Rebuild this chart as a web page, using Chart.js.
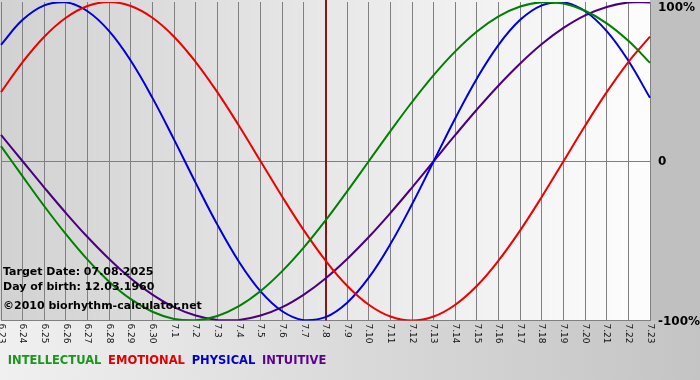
<!DOCTYPE html>
<html>
<head>
<meta charset="utf-8">
<script src="https://cdn.jsdelivr.net/npm/chart.js@4/dist/chart.umd.min.js"></script>
<style>
html,body{margin:0;padding:0;background:#fff;}
#wrap{width:700px;height:380px;position:relative;}
</style>
</head>
<body>
<div id="wrap"><canvas id="c" width="700" height="380"></canvas></div>
<script>
const dates = ['6.23','6.24','6.25','6.26','6.27','6.28','6.29','6.30','7.1','7.2','7.3','7.4','7.5','7.6','7.7','7.8','7.9','7.10','7.11','7.12','7.13','7.14','7.15','7.16','7.17','7.18','7.19','7.20','7.21','7.22','7.23'];
const intellectual = [9.5,-9.5,-28.2,-45.8,-61.8,-75.6,-86.6,-94.5,-99.0,-99.9,-97.2,-91.0,-81.5,-69.0,-54.1,-37.2,-18.9,0,18.9,37.2,54.1,69.0,81.5,91.0,97.2,99.9,99.0,94.5,86.6,75.6,61.8];
const emotional = [43.4,62.3,78.2,90.1,97.5,100,97.5,90.1,78.2,62.3,43.4,22.3,0,-22.3,-43.4,-62.3,-78.2,-90.1,-97.5,-100,-97.5,-90.1,-78.2,-62.3,-43.4,-22.3,0,22.3,43.4,62.3,78.2];
const physical = [73.1,88.8,97.9,99.8,94.2,81.7,63.1,39.8,13.6,-13.6,-39.8,-63.1,-81.7,-94.2,-99.8,-97.9,-88.8,-73.1,-52.0,-27.0,0,27.0,52.0,73.1,88.8,97.9,99.8,94.2,81.7,63.1,39.8];
const intuitive = [16.5,0,-16.5,-32.5,-47.6,-61.4,-73.6,-83.7,-91.6,-96.9,-99.7,-99.7,-96.9,-91.6,-83.7,-73.6,-61.4,-47.6,-32.5,-16.5,0,16.5,32.5,47.6,61.4,73.6,83.7,91.6,96.9,99.7,99.7];
const seriesNames = ['INTELLECTUAL','EMOTIONAL','PHYSICAL','INTUITIVE'];
const yTickValues = [100, 0, -100];
const yTickLabels = ['100%', '0', '-100%'];
const targetDate = '7.8';
const infoLines = ['Target Date: 07.08.2025', 'Day of birth: 12.03.1960', '\u00a92010 biorhythm-calculator.net'];

const lineColors = ['#008000', '#ee0000', '#0000dd', '#4b0082'];
const legendColors = ['#1a961a', '#e00000', '#0000cc', '#5c0090'];

const bgPlugin = {
  id: 'bg',
  beforeDraw(chart) {
    const {ctx, chartArea: a, width, height} = chart;
    ctx.save();
    let g = ctx.createLinearGradient(0, 0, width, 0);
    g.addColorStop(0, '#f0f0f0');
    g.addColorStop(1, '#c4c4c4');
    ctx.fillStyle = g;
    ctx.fillRect(0, 0, width, height);
    ctx.fillStyle = '#c0c0c0';
    ctx.fillRect(a.right, 0, width - a.right, a.bottom);
    g = ctx.createLinearGradient(a.left, 0, a.right, 0);
    g.addColorStop(0, '#d2d2d2');
    g.addColorStop(1, '#fdfdfd');
    ctx.fillStyle = g;
    ctx.fillRect(0, 0, a.right, a.bottom);
    ctx.restore();
  },
  beforeDatasetsDraw(chart) {
    const {ctx, chartArea: a} = chart;
    const xs = chart.scales.x;
    const x = Math.round(xs.getPixelForValue(dates.indexOf(targetDate)));
    ctx.save();
    ctx.strokeStyle = '#801818';
    ctx.lineWidth = 2;
    ctx.beginPath();
    ctx.moveTo(x, 0);
    ctx.lineTo(x, a.bottom);
    ctx.stroke();
    ctx.restore();
  },
  afterDraw(chart) {
    const {ctx, chartArea: a} = chart;
    const xs = chart.scales.x, ys = chart.scales.y;
    ctx.save();
    ctx.fillStyle = '#111';
    ctx.font = '9px "DejaVu Sans"';
    ctx.textAlign = 'left';
    ctx.textBaseline = 'middle';
    dates.forEach((d, i) => {
      const x = xs.getPixelForValue(i);
      ctx.save();
      ctx.translate(x, a.bottom + 3);
      ctx.rotate(Math.PI / 2);
      ctx.fillText(d, 0, 0);
      ctx.restore();
    });
    ctx.font = 'bold 12px "DejaVu Sans"';
    ctx.fillStyle = '#000';
    yTickValues.forEach((v, i) => {
      let y = ys.getPixelForValue(v);
      if (v === 100) y += 5;
      ctx.fillText(yTickLabels[i], a.right + 8, y + 1);
    });
    ctx.font = 'bold 11px "DejaVu Sans"';
    ctx.textBaseline = 'alphabetic';
    const base = [275, 290, 309];
    infoLines.forEach((t, i) => ctx.fillText(t, 3, base[i]));
    ctx.restore();
  }
};

const mk = (data, i) => ({
  label: seriesNames[i], data, borderColor: lineColors[i], backgroundColor: lineColors[i],
  borderWidth: 2, pointRadius: 0, tension: 0.4, fill: false
});

new Chart(document.getElementById('c'), {
  type: 'line',
  data: {
    labels: dates,
    datasets: [mk(intellectual, 0), mk(emotional, 1), mk(physical, 2), mk(intuitive, 3)]
  },
  options: {
    responsive: false,
    animation: false,
    events: [],
    layout: { padding: { left: 1, top: 2, right: 0, bottom: 3 } },
    plugins: {
      tooltip: { enabled: false },
      legend: {
        position: 'bottom',
        align: 'start',
        labels: {
          boxWidth: 0, boxHeight: 0, padding: 1,
          font: { family: '"DejaVu Sans"', size: 11.5, weight: 'bold' },
          generateLabels(chart) {
            return chart.data.datasets.map((ds, i) => ({
              text: ds.label, fontColor: legendColors[i], fillStyle: 'rgba(0,0,0,0)',
              strokeStyle: 'rgba(0,0,0,0)', lineWidth: 0, hidden: false, datasetIndex: i
            }));
          }
        }
      }
    },
    scales: {
      x: {
        type: 'category',
        offset: false,
        ticks: { display: false },
        grid: { color: '#808080', lineWidth: 1, drawTicks: false },
        border: { display: true, color: '#808080' },
        afterFit(s) { s.height = 34; s.paddingLeft = 0; s.paddingRight = 0; }
      },
      y: {
        position: 'right',
        min: -100, max: 100,
        ticks: { display: false, stepSize: 100 },
        grid: { color: (c) => c.tick && c.tick.value === 0 ? '#808080' : 'rgba(0,0,0,0)', drawTicks: false },
        border: { display: true, color: '#808080' },
        afterFit(s) { s.width = 50; s.paddingTop = 0; s.paddingBottom = 0; }
      }
    }
  },
  plugins: [bgPlugin]
});
</script>
</body>
</html>
